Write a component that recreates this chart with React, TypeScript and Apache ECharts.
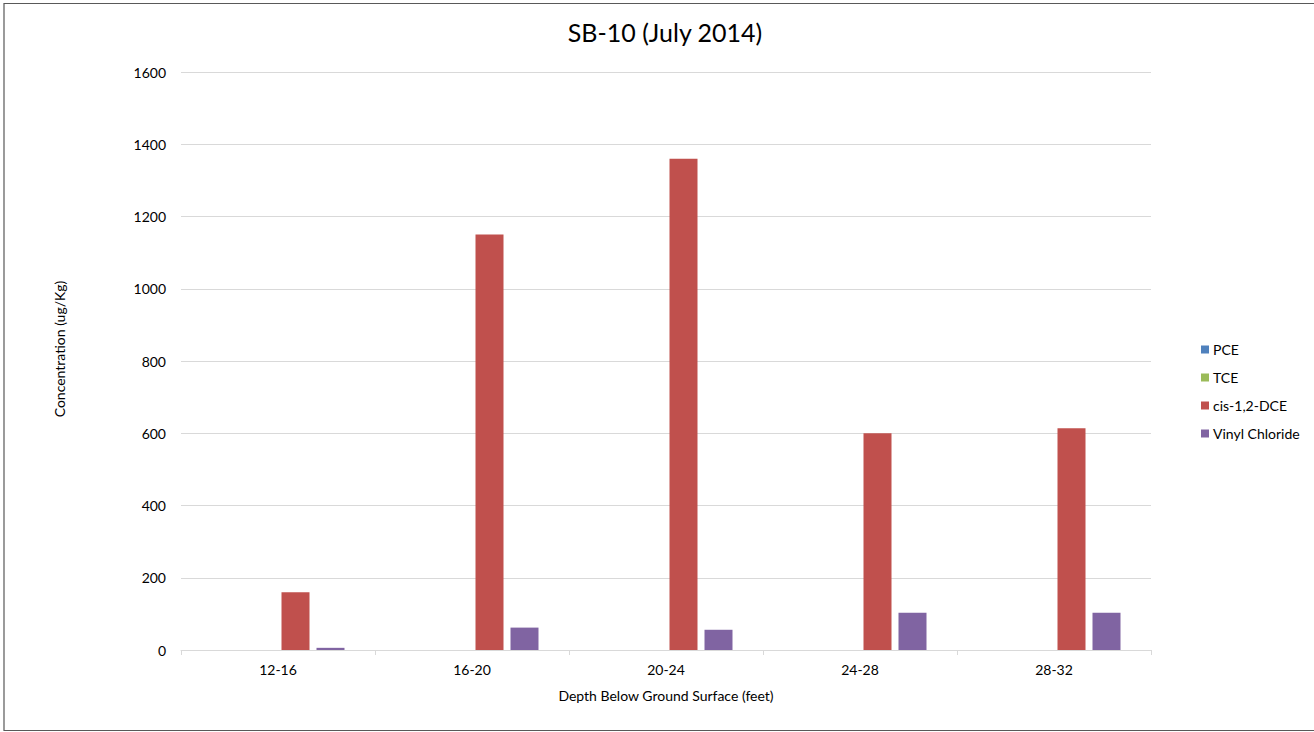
import React, { useEffect, useRef } from "react";
import * as echarts from "echarts";

const categories = ["12-16", "16-20", "20-24", "24-28", "28-32"];
const pce = [0, 0, 0, 0, 0];
const tce = [0, 0, 0, 0, 0];
const cisDce = [160, 1150, 1360, 600, 614];
const vinylChloride = [6, 62, 56, 103, 103];
const yTicks = [0, 200, 400, 600, 800, 1000, 1200, 1400, 1600];

const FONT = "Lato, 'Open Sans', sans-serif";

export default function App() {
  const ref = useRef<HTMLDivElement>(null);
  useEffect(() => {
    if (!ref.current) return;
    const chart = echarts.init(ref.current, undefined, { renderer: "svg" });
    const mk = (name: string, data: number[], color: string) => ({
      name,
      type: "bar",
      data,
      barWidth: 28,
      barGap: "25%",
      itemStyle: { color },
    });
    chart.setOption({
      animation: false,
      backgroundColor: "#ffffff",
      textStyle: { fontFamily: FONT },
      title: {
        text: "SB-10 (July 2014)",
        left: 660,
        textAlign: "center",
        top: 14,
        textStyle: { fontFamily: FONT, fontSize: 25, fontWeight: "normal", color: "#000" },
      },
      graphic: [
        {
          type: "rect",
          shape: { x: 4, y: 3.5, width: 1330, height: 727 },
          style: { fill: "none", stroke: "#595959", lineWidth: 1.2 },
          silent: true,
        },
      ],
      legend: {
        orient: "vertical",
        left: 1196,
        top: 337,
        itemWidth: 8,
        itemHeight: 8,
        itemGap: 13,
        icon: "rect",
        textStyle: { fontFamily: FONT, fontSize: 14, color: "#000", lineHeight: 15, padding: [0, 0, 0, -1] },
        data: ["PCE", "TCE", "cis-1,2-DCE", "Vinyl Chloride"],
      },
      grid: { left: 181, right: 163, top: 72, bottom: 82, containLabel: false },
      xAxis: {
        type: "category",
        data: categories,
        name: "Depth Below Ground Surface (feet)",
        nameLocation: "middle",
        nameGap: 38,
        nameTextStyle: { fontFamily: FONT, fontSize: 14, color: "#000" },
        axisLine: { lineStyle: { color: "#d9d9d9", width: 1 } },
        axisTick: { show: true, length: 5, interval: 0, lineStyle: { color: "#d9d9d9" } },
        axisLabel: { fontFamily: FONT, fontSize: 14, color: "#000", margin: 12 },
      },
      yAxis: {
        type: "value",
        min: yTicks[0],
        max: yTicks[yTicks.length - 1],
        interval: 200,
        name: "Concentration (ug/Kg)",
        nameLocation: "middle",
        nameGap: 115,
        nameRotate: 90,
        nameTextStyle: { fontFamily: FONT, fontSize: 14, color: "#000", padding: [0, 0, 0, 24] },
        axisLine: { show: false },
        axisTick: { show: false },
        axisLabel: {
          fontFamily: FONT,
          fontSize: 14,
          color: "#000",
          margin: 15,
          formatter: (v: number) => String(v),
        },
        splitLine: { lineStyle: { color: "#d9d9d9", width: 1 } },
      },
      series: [
        mk("PCE", pce, "#4f81bd"),
        mk("TCE", tce, "#9bbb59"),
        mk("cis-1,2-DCE", cisDce, "#c0504d"),
        mk("Vinyl Chloride", vinylChloride, "#8064a2"),
      ],
    });
    return () => chart.dispose();
  }, []);
  return (
    <div
      ref={ref}
      style={{ position: "fixed", left: 0, top: 0, width: 1314, height: 732 }}
    />
  );
}
